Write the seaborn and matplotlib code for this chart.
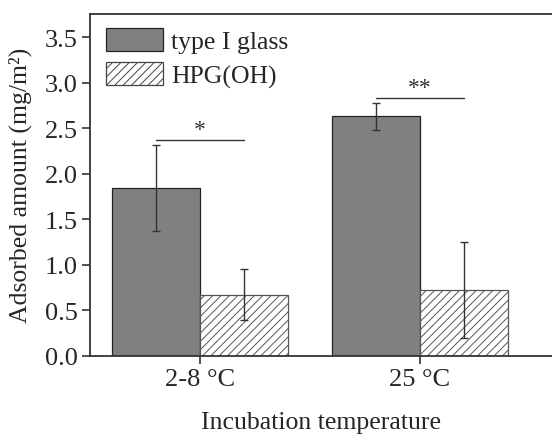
import matplotlib
matplotlib.use("Agg")
import matplotlib.pyplot as plt
import seaborn as sns
import pandas as pd
import numpy as np

# Adsorption data per incubation temperature and surface material
temperatures = ["2-8 °C", "25 °C"]
materials = ["type I glass", "HPG(OH)"]
glass_mean = [1.84, 2.63]
glass_sd = [0.47, 0.15]
hpg_mean = [0.67, 0.72]
hpg_sd = [0.28, 0.53]
significance = ["*", "**"]
sig_level = [2.37, 2.83]

df = pd.DataFrame({
    "temp": temperatures * 2,
    "material": [materials[0]] * 2 + [materials[1]] * 2,
    "value": glass_mean + hpg_mean,
    "sd": glass_sd + hpg_sd,
})

sns.set_theme(style="ticks")
plt.rcParams["font.family"] = ["Liberation Serif", "DejaVu Serif"]
plt.rcParams["hatch.linewidth"] = 0.7
plt.rcParams["hatch.color"] = "#222222"

FS = 18.5

fig = plt.figure(figsize=(5.52, 4.35), dpi=100)
ax = fig.add_axes([90 / 552, (435 - 356.7) / 435, 1 - 90 / 552, (356.7 - 15) / 435])

sns.barplot(data=df, x="temp", y="value", hue="material", order=temperatures,
            hue_order=materials, palette=["#808080", "white"], width=0.8,
            errorbar=None, edgecolor="#222222", linewidth=0.9, ax=ax,
            saturation=1)

# Hatch the second material and attach error bars
bars = [p for p in ax.patches if p.get_height() > 0][:4]
for bar, (_, row) in zip(bars, df.iterrows()):
    if row["material"] == materials[1]:
        bar.set_hatch("////")
        bar.set_edgecolor("#555555")
    cx = bar.get_x() + bar.get_width() / 2
    ax.errorbar(cx, row["value"], yerr=row["sd"], fmt="none", ecolor="#333333",
                elinewidth=1.0, capsize=3, capthick=1.0, zorder=5)

# Significance brackets between the two materials of each temperature
for i, (mark, level) in enumerate(zip(significance, sig_level)):
    g = bars[i]
    h = bars[i + 2]
    x0 = g.get_x() + g.get_width() / 2
    x1 = h.get_x() + h.get_width() / 2
    ax.plot([x0, x1], [level, level], color="#333333", lw=1.0)
    ax.text((x0 + x1) / 2, level + 0.0, mark, ha="center", va="bottom",
            fontsize=17, color="#333333")

ax.set_xlim(-0.5, 1.6)
ax.set_ylim(0, 3.755)
ax.set_yticks([0.0, 0.5, 1.0, 1.5, 2.0, 2.5, 3.0, 3.5])
ax.set_yticklabels([f"{v:.1f}" for v in ax.get_yticks()])
ax.tick_params(axis="both", labelsize=19, length=6, width=1.2, color="#333333",
               direction="out", pad=3)
ax.set_xlabel("Incubation temperature", fontsize=FS, labelpad=15)
ax.set_ylabel("Adsorbed amount (mg/m²)", fontsize=FS, labelpad=9)
for side in ["left", "bottom", "top"]:
    ax.spines[side].set_linewidth(1.3)
    ax.spines[side].set_color("#333333")
ax.spines["right"].set_visible(False)

leg = ax.legend(loc="upper left", frameon=False, fontsize=FS,
                handlelength=2.22, handleheight=1.0, handletextpad=0.32,
                labelspacing=0.36, borderaxespad=0.0, borderpad=0.0,
                bbox_to_anchor=(0.035, 0.96))
for patch in leg.get_patches():
    patch.set_linewidth(0.9)
leg.get_patches()[1].set_hatch("////")
leg.get_patches()[1].set_edgecolor("#444444")

fig.savefig("out.png", dpi=100)
